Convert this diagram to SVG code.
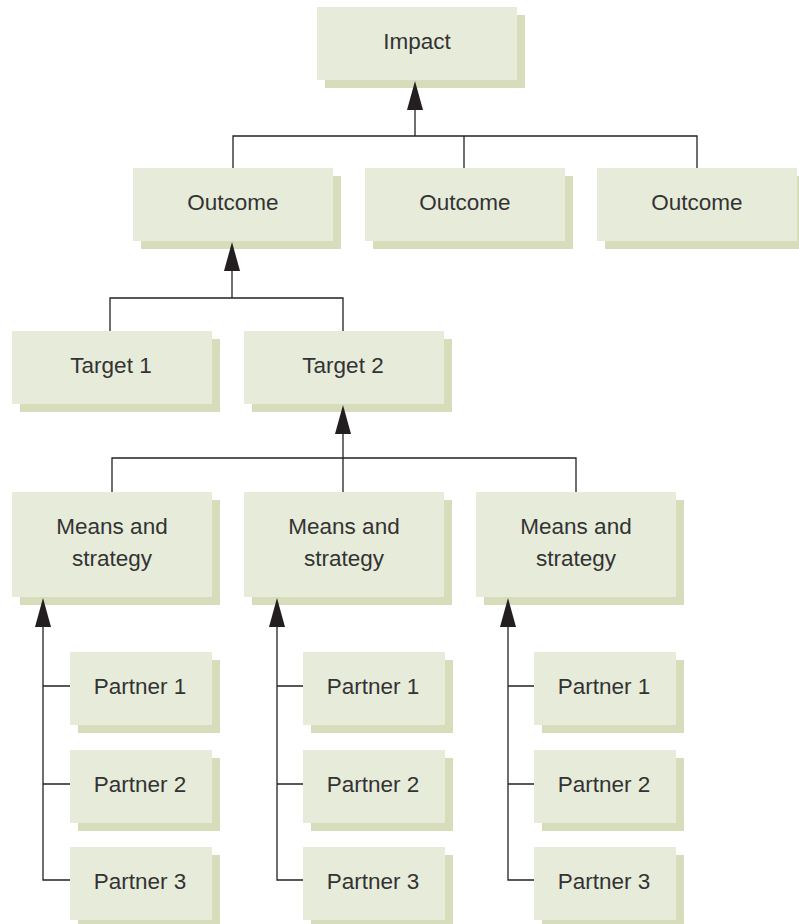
<svg xmlns="http://www.w3.org/2000/svg" width="799" height="924" viewBox="0 0 799 924">
<style>
.sh{fill:#d7ddbb}
.bx{fill:#e7ebda}
.t{font-family:"Liberation Sans",Arial,sans-serif;font-size:22.5px;fill:#333;text-anchor:middle}
.c{fill:none;stroke:#222;stroke-width:1.3}
</style>
<rect width="799" height="924" fill="#fff"/>
<g id="impact"><rect class="sh" x="325" y="15" width="200" height="73"/><rect class="bx" x="317" y="7" width="200" height="73"/><text class="t" x="417" y="49">Impact</text></g>
<g id="outcome1"><rect class="sh" x="141" y="176" width="200" height="73"/><rect class="bx" x="133" y="168" width="200" height="73"/><text class="t" x="233" y="210">Outcome</text></g>
<g id="outcome2"><rect class="sh" x="373" y="176" width="200" height="73"/><rect class="bx" x="365" y="168" width="200" height="73"/><text class="t" x="465" y="210">Outcome</text></g>
<g id="outcome3"><rect class="sh" x="605" y="176" width="200" height="73"/><rect class="bx" x="597" y="168" width="200" height="73"/><text class="t" x="697" y="210">Outcome</text></g>
<g id="target1"><rect class="sh" x="20" y="339" width="200" height="73"/><rect class="bx" x="12" y="331" width="200" height="73"/><text class="t" x="111" y="373">Target 1</text></g>
<g id="target2"><rect class="sh" x="252" y="339" width="200" height="73"/><rect class="bx" x="244" y="331" width="200" height="73"/><text class="t" x="343" y="373">Target 2</text></g>
<g id="means1"><rect class="sh" x="20" y="500" width="200" height="105"/><rect class="bx" x="12" y="492" width="200" height="105"/><text class="t" x="112" y="534">Means and</text><text class="t" x="112" y="566">strategy</text></g>
<g id="means2"><rect class="sh" x="252" y="500" width="200" height="105"/><rect class="bx" x="244" y="492" width="200" height="105"/><text class="t" x="344" y="534">Means and</text><text class="t" x="344" y="566">strategy</text></g>
<g id="means3"><rect class="sh" x="484" y="500" width="200" height="105"/><rect class="bx" x="476" y="492" width="200" height="105"/><text class="t" x="576" y="534">Means and</text><text class="t" x="576" y="566">strategy</text></g>
<g id="p1a"><rect class="sh" x="78" y="660" width="142" height="73"/><rect class="bx" x="70" y="652" width="142" height="73"/><text class="t" x="140" y="694">Partner 1</text></g>
<g id="p2a"><rect class="sh" x="78" y="758" width="142" height="73"/><rect class="bx" x="70" y="750" width="142" height="73"/><text class="t" x="140" y="792">Partner 2</text></g>
<g id="p3a"><rect class="sh" x="78" y="855" width="142" height="73"/><rect class="bx" x="70" y="847" width="142" height="73"/><text class="t" x="140" y="889">Partner 3</text></g>
<g id="p1b"><rect class="sh" x="311" y="660" width="142" height="73"/><rect class="bx" x="303" y="652" width="142" height="73"/><text class="t" x="373" y="694">Partner 1</text></g>
<g id="p2b"><rect class="sh" x="311" y="758" width="142" height="73"/><rect class="bx" x="303" y="750" width="142" height="73"/><text class="t" x="373" y="792">Partner 2</text></g>
<g id="p3b"><rect class="sh" x="311" y="855" width="142" height="73"/><rect class="bx" x="303" y="847" width="142" height="73"/><text class="t" x="373" y="889">Partner 3</text></g>
<g id="p1c"><rect class="sh" x="542" y="660" width="142" height="73"/><rect class="bx" x="534" y="652" width="142" height="73"/><text class="t" x="604" y="694">Partner 1</text></g>
<g id="p2c"><rect class="sh" x="542" y="758" width="142" height="73"/><rect class="bx" x="534" y="750" width="142" height="73"/><text class="t" x="604" y="792">Partner 2</text></g>
<g id="p3c"><rect class="sh" x="542" y="855" width="142" height="73"/><rect class="bx" x="534" y="847" width="142" height="73"/><text class="t" x="604" y="889">Partner 3</text></g>
<g id="connectors">
<path class="c" d="M233 168 V136 H697 V168 M464 136 V168"/>
<path class="c" d="M415 136 V90"/>
<path d="M415 81 L423 110 L407 110 Z" fill="#231f20"/>
<path class="c" d="M110 331 V298 H343 V331"/>
<path class="c" d="M232 298 V250"/>
<path d="M232 242 L240 271 L224 271 Z" fill="#231f20"/>
<path class="c" d="M112 492 V458 H576 V492"/>
<path class="c" d="M343 492 V412"/>
<path d="M343 405 L351 434 L335 434 Z" fill="#231f20"/>
<path class="c" d="M43 606 V880 H70 M43 686 H70 M43 784 H70"/>
<path d="M43 598 L51 627 L35 627 Z" fill="#231f20"/>
<path class="c" d="M277 606 V880 H303 M277 686 H303 M277 784 H303"/>
<path d="M277 598 L285 627 L269 627 Z" fill="#231f20"/>
<path class="c" d="M508 606 V880 H534 M508 686 H534 M508 784 H534"/>
<path d="M508 598 L516 627 L500 627 Z" fill="#231f20"/>
</g>
</svg>
